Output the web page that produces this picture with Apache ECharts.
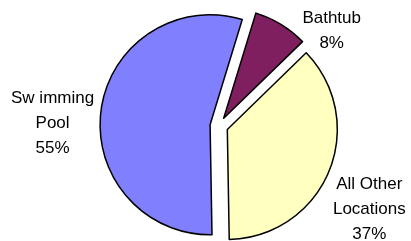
<!DOCTYPE html>
<html>
<head>
<meta charset="utf-8">
<script src="https://cdn.jsdelivr.net/npm/echarts@6/dist/echarts.min.js"></script>
<style>
  html, body { margin: 0; padding: 0; background: #fff; }
  #chart { width: 411px; height: 241px; }
</style>
</head>
<body>
<div id="chart"></div>
<script>
// slice order clockwise starting at the Bathtub edge
var categories = ['Bathtub', 'All Other\nLocations', 'Sw imming\nPool'];
var percents = [8, 37, 55];
var colors = ['#7f1f5f', '#ffffc0', '#8080ff'];

// label block centres (layout only)
var labelSpots = [[327, 38], [361, 206], [61.5, 125]];

var chart = echarts.init(document.getElementById('chart'));

var option = {
    animation: false,
    backgroundColor: '#fff',
    series: [
        {
            type: 'pie',
            center: [219, 126],
            radius: 110,
            startAngle: 73,
            clockwise: true,
            selectedMode: 'multiple',
            selectedOffset: 9,
            avoidLabelOverlap: false,
            itemStyle: {
                borderColor: '#000',
                borderWidth: 1.5
            },
            label: {
                show: true,
                position: 'outside',
                formatter: function (p) {
                    var lines = (p.name + '\n' + p.value + '%').split('\n');
                    return lines.map(function (l) { return '{t|' + l + '}'; }).join('\n');
                },
                rich: {
                    t: {
                        width: 110,
                        align: 'center',
                        fontFamily: 'Liberation Sans, Arial, sans-serif',
                        fontSize: 17,
                        lineHeight: 25,
                        color: '#000'
                    }
                }
            },
            labelLine: { show: false },
            labelLayout: function (params) {
                var i = params.dataIndex;
                if (i == null) {
                    i = 0;
                }
                var s = labelSpots[i];
                var r = params.labelRect;
                return {
                    dx: s[0] - (r.x + r.width / 2),
                    dy: s[1] - (r.y + r.height / 2)
                };
            },
            emphasis: { disabled: true },
            data: categories.map(function (c, i) {
                return {
                    name: c,
                    value: percents[i],
                    selected: true,
                    itemStyle: { color: colors[i] }
                };
            })
        }
    ]
};
chart.setOption(option);
</script>
</body>
</html>
